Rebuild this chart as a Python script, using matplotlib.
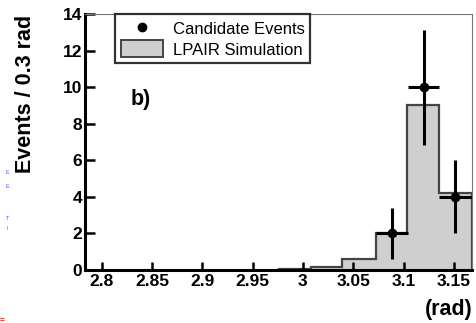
import numpy as np
import matplotlib
matplotlib.use('Agg')
import matplotlib.pyplot as plt
from matplotlib.patches import Patch
from matplotlib.lines import Line2D

plt.rcParams['font.family'] = ['Liberation Sans', 'DejaVu Sans']

# LPAIR simulation histogram (bin edges in rad, counts)
bin_edges = [2.9761, 3.0076, 3.0391, 3.0722, 3.1037, 3.1351, 3.1675]
sim_counts = [0.05, 0.15, 0.6, 2.0, 9.0, 4.2]

# Candidate events
data_x = [3.0885, 3.1200, 3.1513]
data_y = [2, 10, 4]
data_err_lo = [1.4, 3.15, 2.0]
data_err_hi = [1.35, 3.15, 2.0]
data_xerr = [0.0158, 0.0155, 0.0162]

fig = plt.figure(figsize=(4.76, 3.23), dpi=100)
ax = fig.add_axes([0.1786, 0.1656, 0.812, 0.791])

# simulation histogram
ax.stairs(sim_counts, bin_edges, fill=True, facecolor='#cfcfcf', edgecolor='none')
ax.stairs(sim_counts, bin_edges, fill=False, edgecolor='#444444', linewidth=1.6)

# data points
ax.errorbar(data_x, data_y, xerr=data_xerr, yerr=[data_err_lo, data_err_hi],
            fmt='o', color='black', markersize=6, elinewidth=2.2, capsize=0)

ax.set_xlim(2.7835, 3.1675)
ax.set_ylim(0, 14)
ax.set_xticks([2.8, 2.85, 2.9, 2.95, 3.0, 3.05, 3.1, 3.15])
ax.set_xticklabels(['2.8', '2.85', '2.9', '2.95', '3', '3.05', '3.1', '3.15'])
ax.set_yticks([0, 2, 4, 6, 8, 10, 12, 14])

ax.tick_params(axis='y', direction='in', length=7.5, width=1.8, labelsize=12.5, pad=2)
ax.tick_params(axis='x', direction='in', length=5.5, width=1.8, labelsize=12.5, pad=3)
for lab in ax.get_xticklabels() + ax.get_yticklabels():
    lab.set_fontweight('bold')

ax.spines['left'].set_linewidth(2.2)
ax.spines['bottom'].set_linewidth(2.2)
ax.spines['top'].set_linewidth(0.8)
ax.spines['right'].set_linewidth(0.8)
ax.spines['top'].set_color('#777777')
ax.spines['right'].set_color('#777777')

ax.set_ylabel('Events / 0.3 rad', fontsize=15.5, fontweight='bold', loc='top')
ax.yaxis.set_label_coords(-0.128, 0.995)
fig.text(0.992, 0.01, '(rad)', ha='right', va='bottom', fontsize=15.5, fontweight='bold')
ax.text(2.829, 9.0, 'b)', fontsize=15.5, fontweight='bold')

handles = [
    Line2D([], [], marker='o', color='black', linestyle='none', markersize=6),
    Patch(facecolor='#cfcfcf', edgecolor='#444444', linewidth=1.4),
]
leg = ax.legend(handles, ['Candidate Events', 'LPAIR Simulation'],
                loc='upper left', bbox_to_anchor=(0.078, 1.0), fontsize=12,
                frameon=True, fancybox=False, borderpad=0.35, handlelength=2.5,
                handleheight=1.2, handletextpad=0.6, labelspacing=0.2,
                borderaxespad=0)
leg.get_frame().set_edgecolor('black')
leg.get_frame().set_linewidth(1.6)

# small stray marks near the left edge of the original image
fig.text(0.016, 1 - 173 / 323, 'E', color='#5555ff', fontsize=4, ha='center', va='center')
fig.text(0.016, 1 - 187 / 323, 'E', color='#5555ff', fontsize=4, ha='center', va='center')
fig.text(0.016, 1 - 218 / 323, 'T', color='#5555ff', fontsize=4, ha='center', va='center')
fig.text(0.016, 1 - 228 / 323, 'I', color='#ff3333', fontsize=4, ha='center', va='center')
fig.text(0.0, 1 - 320 / 323, '=', color='#ff0000', fontsize=6, ha='left', va='center',
         fontweight='bold')

fig.savefig('out.png', dpi=100)
